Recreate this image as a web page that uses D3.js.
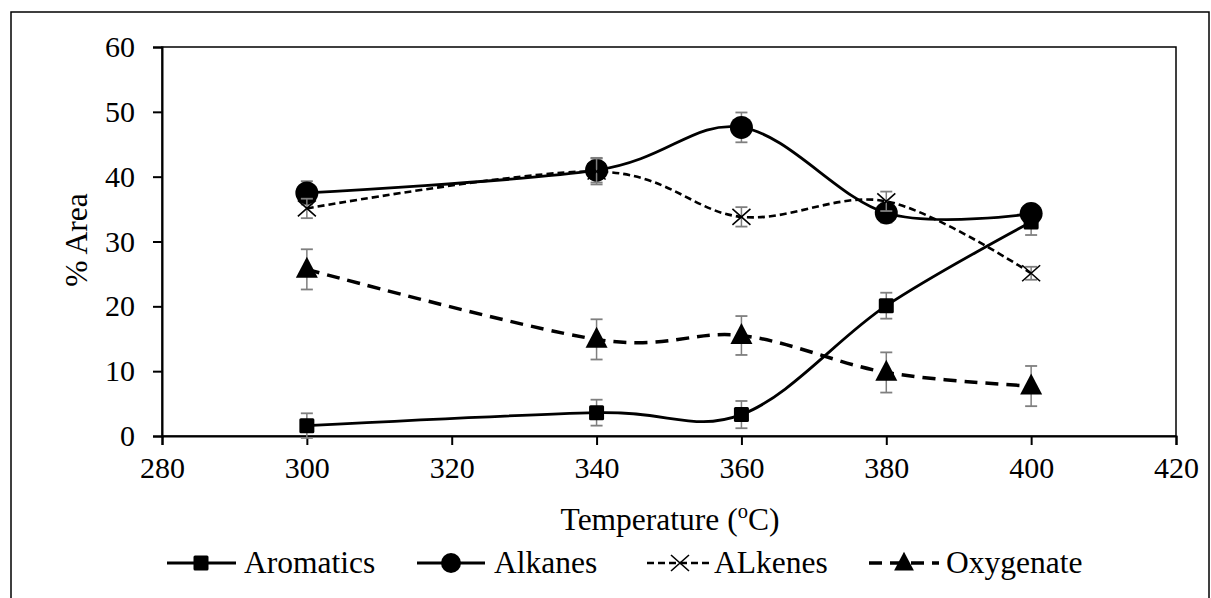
<!DOCTYPE html>
<html>
<head>
<meta charset="utf-8">
<script src="https://cdn.jsdelivr.net/npm/d3@7/dist/d3.min.js"></script>
<style>
  html, body { margin: 0; padding: 0; background: #fff; }
  svg { display: block; font-family: "Liberation Serif", "Times New Roman", serif; }
</style>
</head>
<body>
<svg id="chart" width="1211" height="598"></svg>
<script>
// ---- data ----
const temperatures = [300, 340, 360, 380, 400];
const aromatics    = [1.6, 3.6, 3.3, 20.1, 33.0];
const aromaticsErr = [1.9, 2.0, 2.1, 2.0, 2.0];
const alkanes      = [37.5, 41.0, 47.6, 34.4, 34.3];
const alkanesErr   = [1.8, 1.9, 2.3, 1.5, 1.2];
const alkenes      = [35.1, 40.8, 33.8, 36.2, 25.1];
const alkenesErr   = [1.5, 2.0, 1.5, 1.5, 1.0];
const oxygenate    = [25.7, 14.9, 15.5, 9.8, 7.7];
const oxygenateErr = [3.1, 3.1, 3.0, 3.1, 3.1];
const xTicks = [280, 300, 320, 340, 360, 380, 400, 420];
const yTicks = [0, 10, 20, 30, 40, 50, 60];
const seriesNames = ["Aromatics", "Alkanes", "ALkenes", "Oxygenate"];

const series = [
  { name: seriesNames[0], values: aromatics, err: aromaticsErr, marker: "square",   dash: null,     width: 2.8 },
  { name: seriesNames[1], values: alkanes,   err: alkanesErr,   marker: "circle",   dash: null,     width: 2.8 },
  { name: seriesNames[2], values: alkenes,   err: alkenesErr,   marker: "cross",    dash: "7,4",    width: 2.6 },
  { name: seriesNames[3], values: oxygenate, err: oxygenateErr, marker: "triangle", dash: "13,8",   width: 3.5 }
];

// ---- layout ----
const svg = d3.select("#chart");
const plot = { left: 162, right: 1176, top: 47, bottom: 436 };
const TICKFONT = 30;
const FONT = 31.5;

const x = d3.scaleLinear().domain([280, 420]).range([plot.left, plot.right]);
const y = d3.scaleLinear().domain([0, 60]).range([plot.bottom, plot.top]);

// outer frame
svg.append("rect")
  .attr("x", 11).attr("y", 12).attr("width", 1198).attr("height", 620)
  .attr("fill", "none").attr("stroke", "#000").attr("stroke-width", 1.5);

// plot box
svg.append("rect")
  .attr("x", plot.left).attr("y", plot.top)
  .attr("width", plot.right - plot.left).attr("height", plot.bottom - plot.top)
  .attr("fill", "none").attr("stroke", "#000").attr("stroke-width", 1.5);

// axes
const xAxis = svg.append("g")
  .attr("transform", `translate(0,${plot.bottom})`)
  .call(d3.axisBottom(x).tickValues(xTicks).tickSize(9).tickPadding(12).tickFormat(d3.format("d")));
const yAxis = svg.append("g")
  .attr("transform", `translate(${plot.left},0)`)
  .call(d3.axisLeft(y).tickValues(yTicks).tickSize(9).tickPadding(18).tickFormat(d3.format("d")));
[xAxis, yAxis].forEach(g => {
  g.attr("font-family", "'Liberation Serif', 'Times New Roman', serif");
  g.select(".domain").attr("stroke", "#000").attr("stroke-width", 2);
  g.selectAll(".tick line").attr("stroke", "#000").attr("stroke-width", 2);
  g.selectAll(".tick text").attr("fill", "#000").attr("font-size", TICKFONT);
});
xAxis.selectAll(".tick text").attr("dy", "0.71em");

// axis titles
const xt = svg.append("text")
  .attr("x", 670).attr("y", 530)
  .attr("text-anchor", "middle").attr("font-size", FONT).attr("fill", "#000");
xt.append("tspan").text("Temperature (");
xt.append("tspan").attr("font-size", FONT * 0.65).attr("dy", -12).text("o");
xt.append("tspan").attr("dy", 12).text("C)");

svg.append("text")
  .attr("transform", "translate(87,240) rotate(-90)")
  .attr("text-anchor", "middle").attr("font-size", FONT).attr("fill", "#000")
  .text("% Area");

// markers
function drawMarker(g, type, cx, cy, scale) {
  const s = scale || 1;
  if (type === "square") {
    const h = 7.5 * s;
    g.append("rect").attr("x", cx - h).attr("y", cy - h).attr("width", 2 * h).attr("height", 2 * h)
      .attr("rx", 1.5).attr("fill", "#000");
  } else if (type === "circle") {
    g.append("circle").attr("cx", cx).attr("cy", cy).attr("r", 11.5 * s).attr("fill", "#000");
  } else if (type === "triangle") {
    const w = 11 * s, h = 21 * s;
    g.append("path")
      .attr("d", `M${cx},${cy - h * 0.6}L${cx + w},${cy + h * 0.4}L${cx - w},${cy + h * 0.4}Z`)
      .attr("fill", "#000");
  } else if (type === "cross") {
    const w = 9 * s, h = 8 * s;
    g.append("path")
      .attr("d", `M${cx - w},${cy - h}L${cx + w},${cy + h}M${cx - w},${cy + h}L${cx + w},${cy - h}`)
      .attr("stroke", "#000").attr("stroke-width", 1.6).attr("fill", "none");
  }
}

const line = d3.line()
  .x(d => x(d[0])).y(d => y(d[1]))
  .curve(d3.curveCatmullRom.alpha(0));

const plotG = svg.append("g");
series.forEach(s => {
  const pts = temperatures.map((t, i) => [t, s.values[i], s.err[i]]);
  const g = plotG.append("g");
  g.append("path")
    .attr("d", line(pts))
    .attr("fill", "none").attr("stroke", "#000")
    .attr("stroke-width", s.width)
    .attr("stroke-dasharray", s.dash);
  pts.forEach(p => {
    const cx = x(p[0]);
    g.append("line").attr("x1", cx).attr("x2", cx).attr("y1", y(p[1] - p[2])).attr("y2", y(p[1] + p[2]))
      .attr("stroke", "#7f7f7f").attr("stroke-width", 1.5);
    [p[1] - p[2], p[1] + p[2]].forEach(v => {
      g.append("line").attr("x1", cx - 6).attr("x2", cx + 6).attr("y1", y(v)).attr("y2", y(v))
        .attr("stroke", "#7f7f7f").attr("stroke-width", 1.8);
    });
  });
  pts.forEach(p => drawMarker(g, s.marker, x(p[0]), y(p[1]), 1));
});

// legend
const legendItems = [
  { x1: 167, x2: 236, mx: 201, tx: 244 },
  { x1: 417, x2: 485, mx: 451, tx: 494 },
  { x1: 647, x2: 712, mx: 680, tx: 714 },
  { x1: 869, x2: 939, mx: 904, tx: 946 }
];
const legY = 563;
series.forEach((s, i) => {
  const li = legendItems[i];
  const g = svg.append("g");
  g.append("line").attr("x1", li.x1).attr("x2", li.x2).attr("y1", legY).attr("y2", legY)
    .attr("stroke", "#000").attr("stroke-width", s.width).attr("stroke-dasharray", s.dash);
  drawMarker(g, s.marker, li.mx, legY, s.marker === "circle" ? 0.87 : (s.marker === "triangle" ? 0.9 : 1));
  g.append("text").attr("x", li.tx).attr("y", legY + 10)
    .attr("font-size", FONT).attr("fill", "#000").text(s.name);
});
</script>
</body>
</html>
